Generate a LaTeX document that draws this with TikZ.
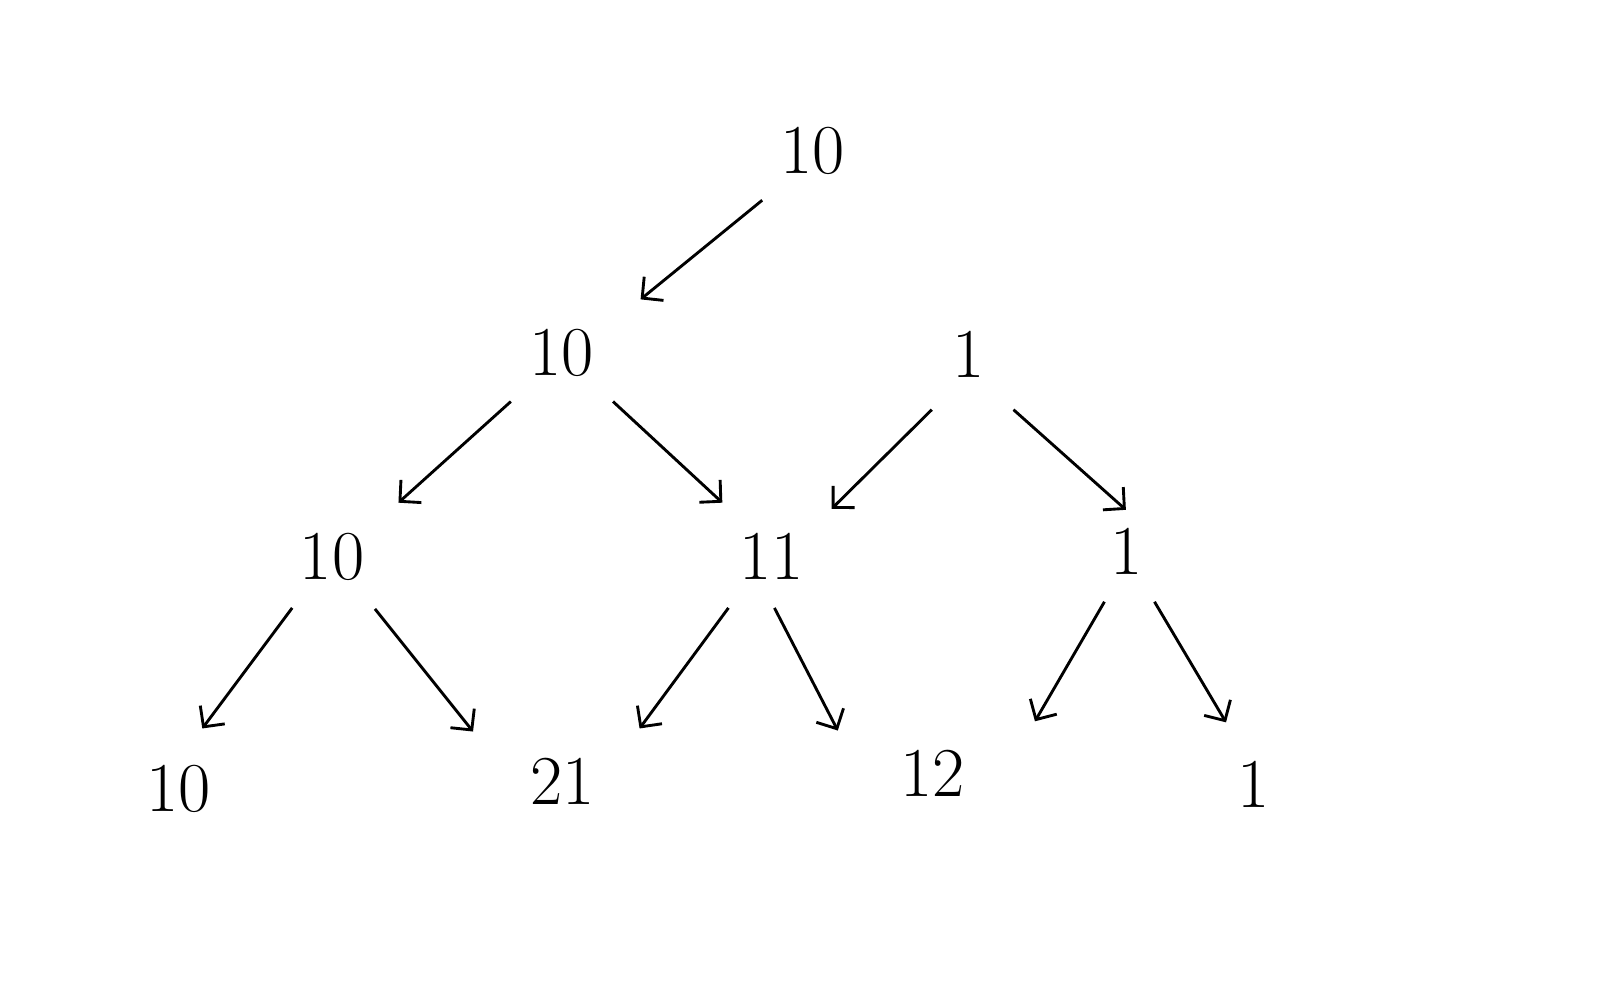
\documentclass[tikz,border=0pt]{standalone}
\usetikzlibrary{arrows.meta}
\begin{document}
\begin{tikzpicture}[x=0.01cm,y=-0.01cm,
  num/.style={inner sep=0pt,font=\fontsize{19.5}{23}\selectfont},
  edge/.style={line width=0.8pt,-{Straight Barb[length=4.2pt,width=8.5pt]}}]
\useasboundingbox (0,0) rectangle (1568,961.2);
\node[num] (r) at (795,148) {10};
\node[num] (a) at (550,345) {10};
\node[num] (b) at (948,347) {1};
\node[num] (c) at (325,545) {10};
\node[num] (d) at (755,545) {11};
\node[num] (e) at (1103,540) {1};
\node[num] (f) at (175,772) {10};
\node[num] (g) at (551,765) {21};
\node[num] (h) at (913,757) {12};
\node[num] (i) at (1227,768) {1};
% arrow end points
\coordinate (r1) at (746,196); \coordinate (r1e) at (627,293);
\coordinate (a1) at (500,393); \coordinate (a1e) at (390,492);
\coordinate (a2) at (600,393); \coordinate (a2e) at (707,492);
\coordinate (b1) at (912,401); \coordinate (b1e) at (814,498);
\coordinate (b2) at (992,401); \coordinate (b2e) at (1102,499);
\coordinate (c1) at (286,595); \coordinate (c1e) at (198,713);
\coordinate (c2) at (367,596); \coordinate (c2e) at (463,716);
\coordinate (d1) at (713,595); \coordinate (d1e) at (626,713);
\coordinate (d2) at (758,595); \coordinate (d2e) at (820,715);
\coordinate (e1) at (1081,589); \coordinate (e1e) at (1013,706);
\coordinate (e2) at (1130,589); \coordinate (e2e) at (1200,707);
\draw[edge] (r1) -- (r1e);
\draw[edge] (a1) -- (a1e);
\draw[edge] (a2) -- (a2e);
\draw[edge] (b1) -- (b1e);
\draw[edge] (b2) -- (b2e);
\draw[edge] (c1) -- (c1e);
\draw[edge] (c2) -- (c2e);
\draw[edge] (d1) -- (d1e);
\draw[edge] (d2) -- (d2e);
\draw[edge] (e1) -- (e1e);
\draw[edge] (e2) -- (e2e);
\end{tikzpicture}
\end{document}
